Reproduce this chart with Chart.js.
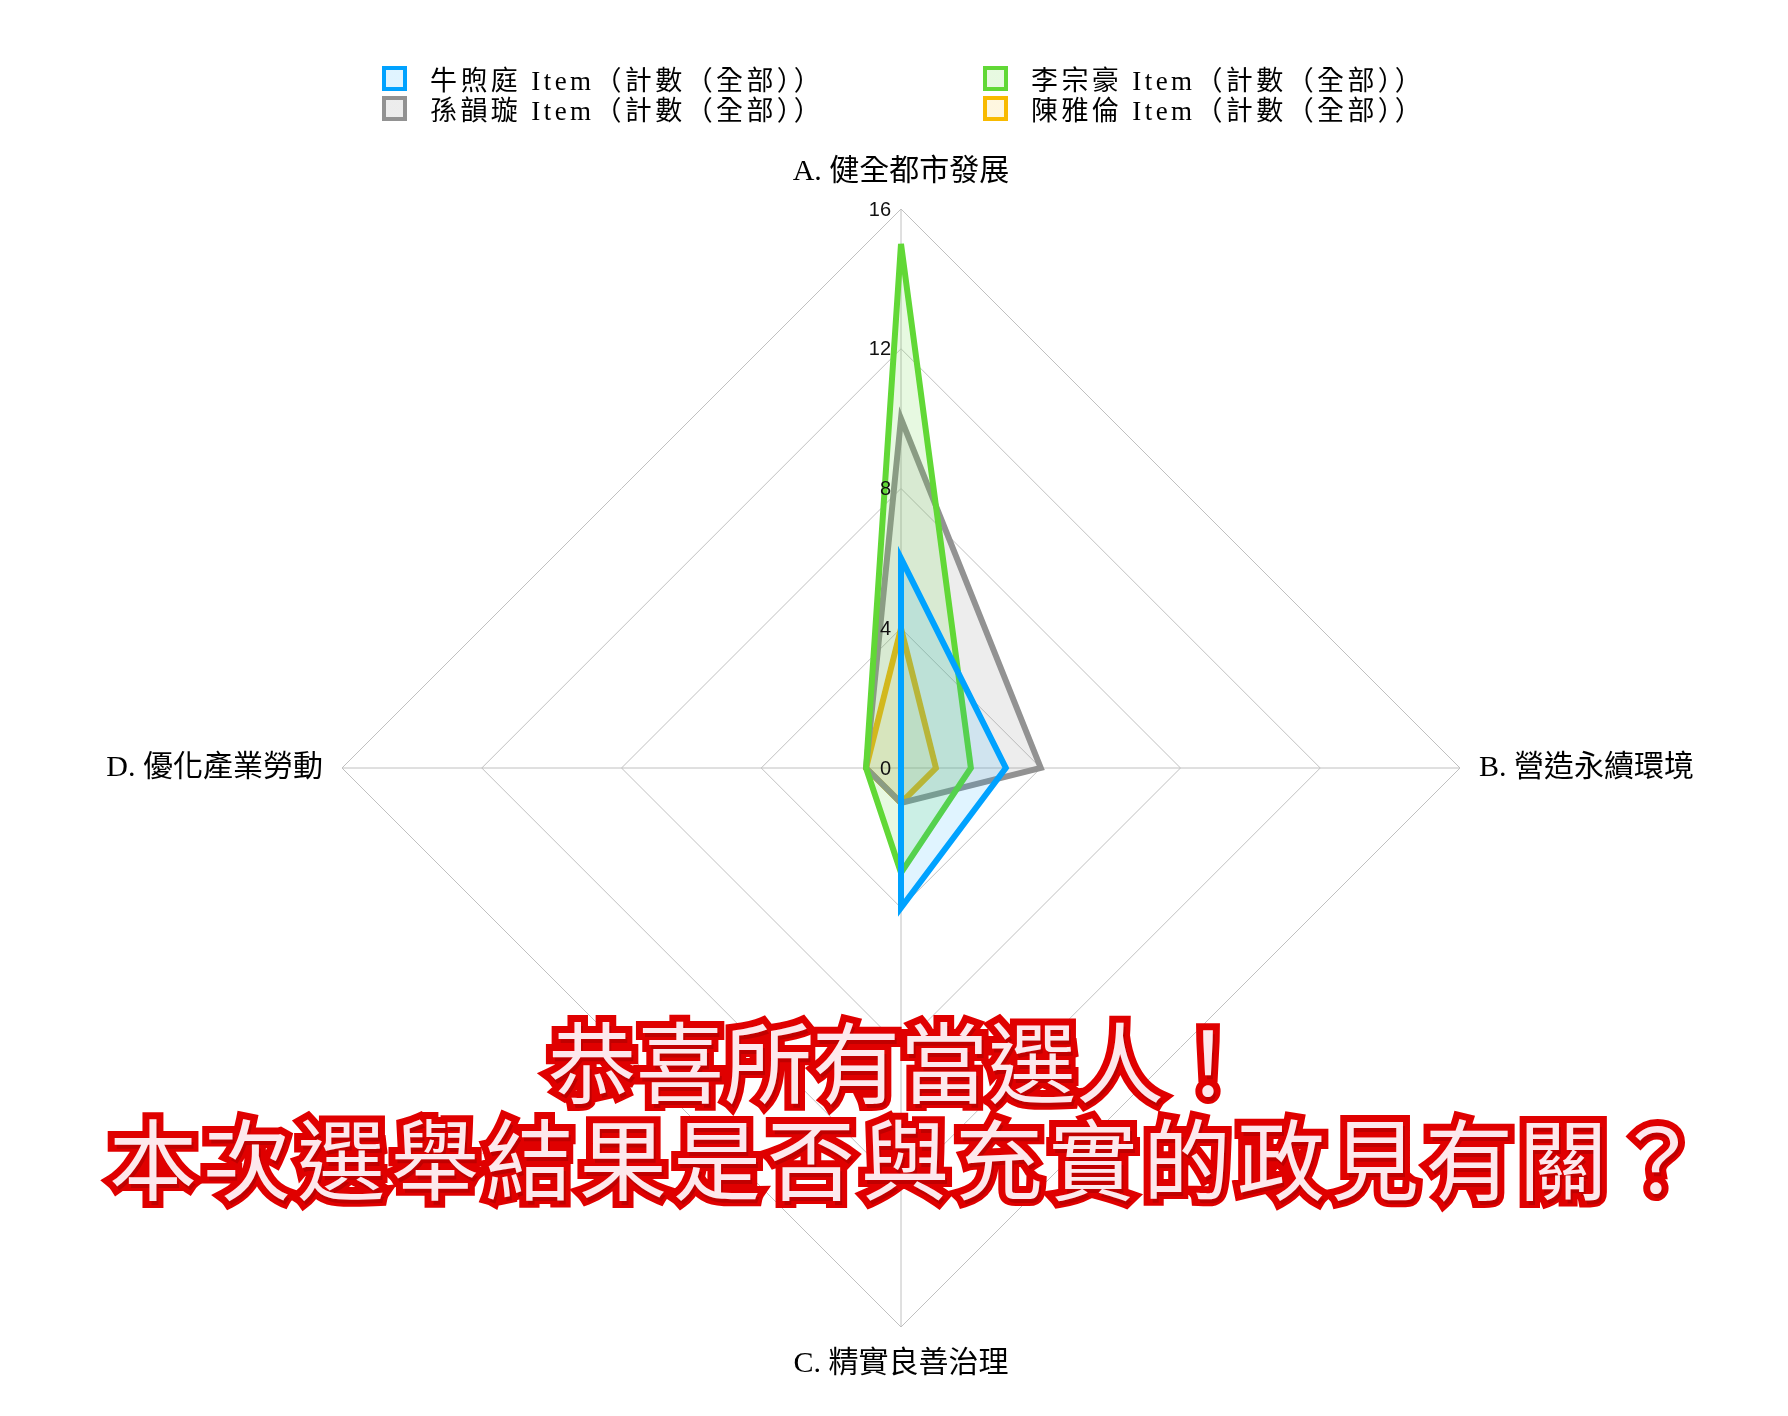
<!DOCTYPE html>
<html>
<head>
<meta charset="utf-8">
<script src="https://cdn.jsdelivr.net/npm/chart.js@4/dist/chart.umd.min.js"></script>
<style>
html,body{margin:0;padding:0;background:#fff;}
#wrap{position:relative;width:1788px;height:1416px;overflow:hidden;background:#fff;}
#c{position:absolute;left:0;top:0;}
#legend{position:absolute;left:382px;top:66px;display:grid;grid-template-columns:601px auto;grid-auto-rows:30px;
  font-family:"Liberation Serif","Noto Sans CJK TC",serif;font-size:27px;letter-spacing:3.4px;color:#000;}
.li{display:flex;align-items:flex-start;white-space:nowrap;}
.box{width:17px;height:17px;border:4px solid;flex:none;}
.lt{margin-left:23px;line-height:25px;padding-top:3px;}
.banner{position:absolute;left:0;width:1800px;text-align:center;white-space:nowrap;
  font-family:"Noto Sans CJK TC","Noto Sans CJK SC",sans-serif;font-weight:400;font-size:88px;line-height:88px;
  color:#fde8ec;-webkit-text-stroke:14px #e00000;paint-order:stroke fill;
  text-shadow:2px 4px 0 #c00000;}
#b1{top:1014px;}
#b2{top:1111px;letter-spacing:6px;left:8px;}
</style>
</head>
<body>
<div id="wrap">
  <canvas id="c" width="1788" height="1416"></canvas>
  <div id="legend"></div>
  <div class="banner" id="b1"></div>
  <div class="banner" id="b2"></div>
</div>
<script>
// ---- data ----
const categories = ['A. 健全都市發展', 'B. 營造永續環境', 'C. 精實良善治理', 'D. 優化產業勞動'];
const seriesNames = ['牛煦庭 Item（計數（全部））', '李宗豪 Item（計數（全部））', '孫韻璇 Item（計數（全部））', '陳雅倫 Item（計數（全部））'];
const niuValues  = [6, 3, 4, 0];
const liValues   = [15, 2, 3, 1];
const sunValues  = [10, 4, 1, 1];
const chenValues = [4, 1, 1, 1];
const tickValues = [0, 4, 8, 12, 16];
const bannerLines = ['恭喜所有當選人！', '本次選舉結果是否與充實的政見有關？'];

// ---- styles ----
const lineColors = ['#00A2FF', '#61D836', '#929292', '#F8BA00'];
const fillColors = ['rgba(0,162,255,0.12)', 'rgba(97,216,54,0.15)', 'rgba(146,146,146,0.17)', 'rgba(248,186,0,0.12)'];
const seriesValues = [niuValues, liValues, sunValues, chenValues];

document.getElementById('b1').textContent = bannerLines[0];
document.getElementById('b2').textContent = bannerLines[1];

// legend (HTML)
const legendEl = document.getElementById('legend');
seriesNames.forEach((name, i) => {
  const item = document.createElement('div');
  item.className = 'li';
  const box = document.createElement('span');
  box.className = 'box';
  box.style.borderColor = lineColors[i];
  box.style.background = 'linear-gradient(' + fillColors[i] + ',' + fillColors[i] + '), #fff';
  const t = document.createElement('span');
  t.className = 'lt';
  t.textContent = name;
  item.appendChild(box);
  item.appendChild(t);
  legendEl.appendChild(item);
});

const tickPlugin = {
  id: 'leftTicks',
  afterDatasetsDraw(chart) {
    const s = chart.scales.r;
    const ctx = chart.ctx;
    ctx.save();
    ctx.font = '20px "Liberation Sans", Arial, sans-serif';
    ctx.fillStyle = '#111';
    ctx.textAlign = 'right';
    ctx.textBaseline = 'middle';
    tickValues.forEach(v => {
      const d = s.getDistanceFromCenterForValue(v);
      ctx.fillText(String(v), s.xCenter - 10, s.yCenter - d + 1);
    });
    ctx.restore();
  }
};

new Chart(document.getElementById('c'), {
  type: 'radar',
  data: {
    labels: categories,
    datasets: seriesNames.map((name, i) => ({
      label: name,
      data: seriesValues[i],
      borderColor: lineColors[i],
      backgroundColor: fillColors[i],
      borderWidth: 6,
      borderJoinStyle: 'miter',
      pointRadius: 0,
      pointHoverRadius: 0,
      fill: true,
      tension: 0
    }))
  },
  options: {
    responsive: false,
    animation: false,
    layout: { padding: { left: 14, right: 0, top: 154, bottom: 34 } },
    plugins: { legend: { display: false }, tooltip: { enabled: false } },
    scales: {
      r: {
        min: 0,
        max: 16,
        ticks: { stepSize: 4, display: false },
        grid: { color: '#c0c0c0', lineWidth: 1 },
        angleLines: { color: '#c0c0c0', lineWidth: 1 },
        pointLabels: {
          color: '#000',
          padding: 19,
          font: { family: '"Liberation Serif", "Noto Sans CJK TC", serif', size: 30 }
        }
      }
    }
  },
  plugins: [tickPlugin]
});
</script>
</body>
</html>
